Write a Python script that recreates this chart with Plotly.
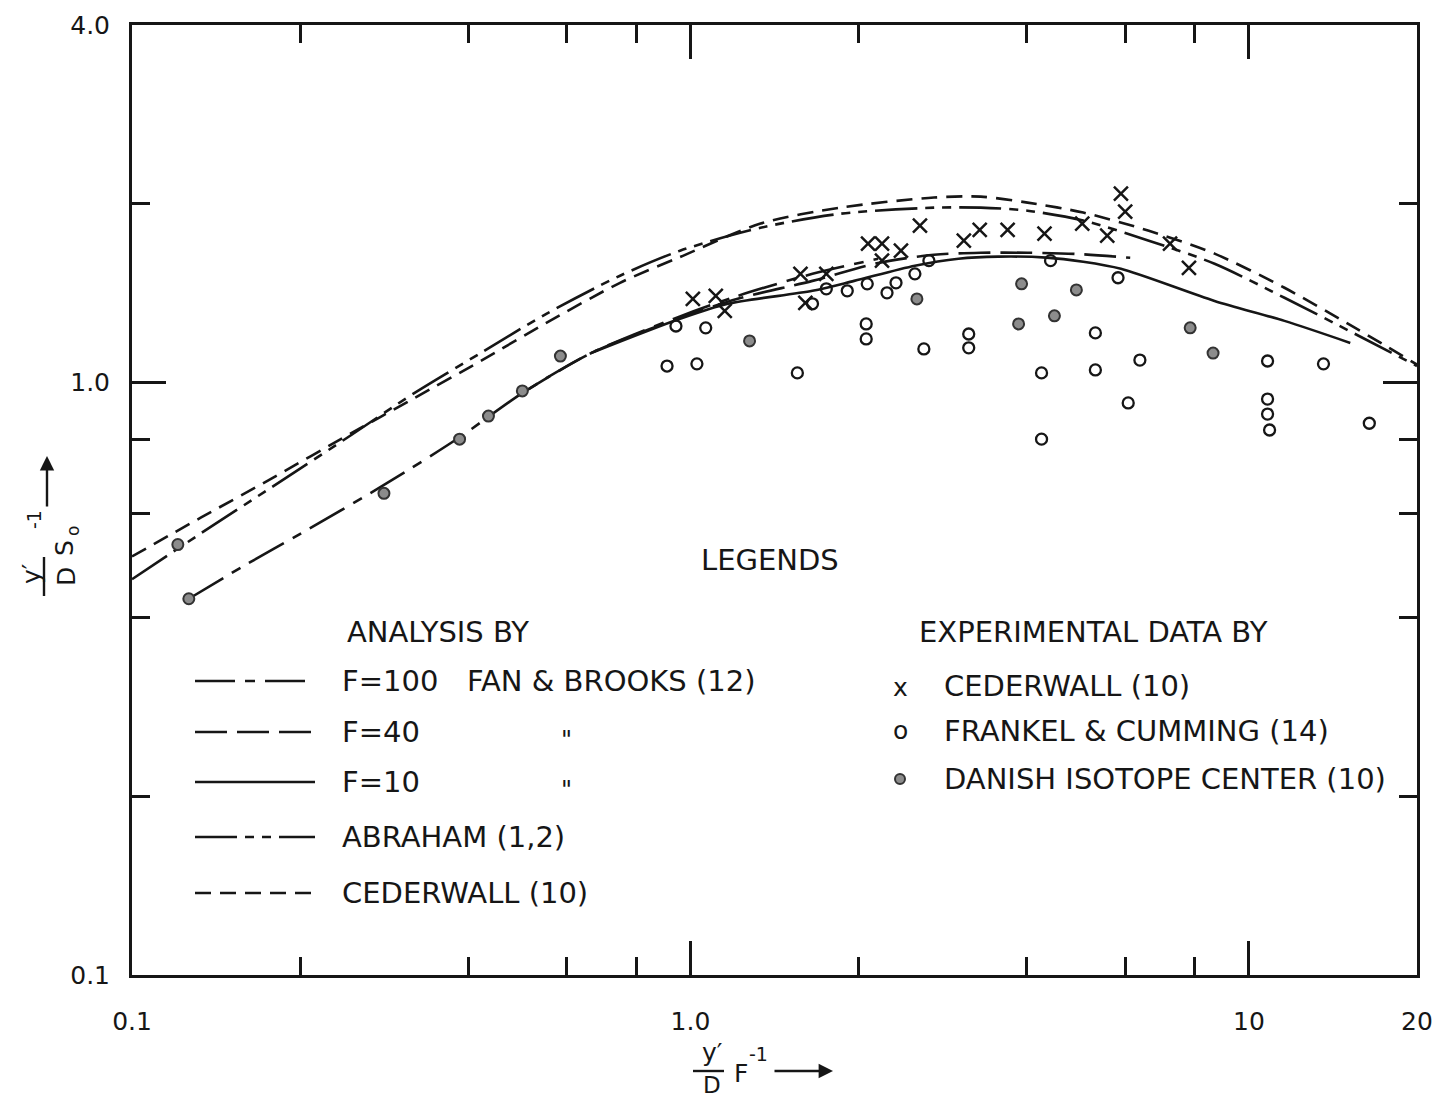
import plotly.graph_objects as go

# ---------------- data ----------------
# Analysis curves
ced_line_x = [0.1, 0.133, 0.178, 0.247, 0.318, 0.421, 0.552, 0.748, 0.958, 1.335, 1.854, 2.729, 3.31, 4.015, 5.05, 6.62, 8.68, 11.58, 15.5, 20.0]
ced_line_y = [0.508, 0.591, 0.688, 0.820, 0.936, 1.085, 1.258, 1.470, 1.625, 1.850, 1.968, 2.047, 2.054, 2.007, 1.931, 1.799, 1.646, 1.442, 1.234, 1.07]

abr_line_x = [0.1, 0.133, 0.178, 0.247, 0.318, 0.421, 0.552, 0.748, 0.958, 1.335, 1.854, 2.729, 3.31, 4.015, 5.05, 6.62, 8.68, 11.58, 15.5, 20.0]
abr_line_y = [0.465, 0.556, 0.665, 0.814, 0.954, 1.119, 1.303, 1.511, 1.665, 1.820, 1.922, 1.968, 1.968, 1.945, 1.872, 1.731, 1.583, 1.387, 1.205, 1.064]

f100_x = [0.1264, 0.157, 0.201, 0.286, 0.386, 0.500, 0.664, 0.958, 1.215, 1.654, 2.168]
f100_y = [0.431, 0.487, 0.556, 0.675, 0.807, 0.958, 1.119, 1.290, 1.397, 1.522, 1.614]

f40_x = [0.500, 0.664, 0.958, 1.215, 1.654, 2.168, 2.729, 3.31, 4.015, 4.87, 6.13]
f40_y = [0.958, 1.119, 1.283, 1.382, 1.481, 1.588, 1.639, 1.652, 1.652, 1.645, 1.620]

f10_x = [0.664, 0.958, 1.167, 1.654, 1.964, 2.523, 3.02, 3.56, 4.34, 5.05, 5.90, 8.68, 11.58, 15.19]
f10_y = [1.119, 1.278, 1.355, 1.425, 1.481, 1.571, 1.614, 1.627, 1.621, 1.595, 1.552, 1.370, 1.268, 1.164]

# Experimental data
ced_pts_x = [1.010, 1.110, 1.152, 1.574, 1.751, 1.606, 2.080, 2.203, 2.382, 2.203, 2.576, 3.087, 3.296, 3.698, 4.305, 5.03, 5.576, 5.90, 6.004, 7.224, 7.81]
ced_pts_y = [1.381, 1.397, 1.318, 1.522, 1.522, 1.360, 1.711, 1.711, 1.665, 1.602, 1.835, 1.731, 1.806, 1.806, 1.779, 1.849, 1.765, 2.078, 1.938, 1.711, 1.558]

fc_x = [0.942, 1.065, 0.908, 1.027, 1.554, 1.654, 1.751, 1.909, 2.073, 2.064, 2.064, 2.249, 2.334, 2.523, 2.673, 2.618, 3.150, 3.150, 4.414, 4.253, 4.253, 5.31, 5.31, 5.83, 6.08, 6.38, 10.80, 10.80, 10.80, 10.89, 13.60, 16.43]
fc_y = [1.243, 1.234, 1.064, 1.073, 1.036, 1.355, 1.436, 1.425, 1.464, 1.253, 1.182, 1.414, 1.470, 1.522, 1.602, 1.137, 1.205, 1.142, 1.602, 1.036, 0.801, 1.210, 1.048, 1.499, 0.922, 1.089, 1.085, 0.936, 0.883, 0.830, 1.073, 0.852]

dan_x = [0.1208, 0.1264, 0.2826, 0.386, 0.4348, 0.500, 0.585, 1.276, 2.544, 3.917, 3.869, 4.485, 4.91, 7.85, 8.627]
dan_y = [0.532, 0.431, 0.649, 0.801, 0.876, 0.966, 1.106, 1.173, 1.381, 1.464, 1.253, 1.293, 1.430, 1.234, 1.119]

# Axis ticks
x_major = [0.1, 1, 10, 20]
x_major_text = ["0.1", "1.0", "10", "20"]
x_minor = [0.2, 0.4, 0.6, 0.8, 2, 4, 6, 8]
y_major = [0.1, 1, 4]
y_major_text = ["0.1", "1.0", "4.0"]
y_minor = [0.2, 0.4, 0.6, 0.8, 2]

# Legend texts
analysis_rows = ["F=100", "F=40", "F=10", "ABRAHAM (1,2)", "CEDERWALL (10)"]
experiment_rows = ["CEDERWALL (10)", "FRANKEL &amp; CUMMING (14)", "DANISH ISOTOPE CENTER (10)"]

# ---------------- styling ----------------
FONT = "DejaVu Sans"
INK = "#161616"
W, H = 1437, 1102
L, R, T, B = 132, 20, 25, 127
PW, PH = W - L - R, H - T - B
TXT = 29

DASH_CED = "16px,9px"
DASH_ABR = "42px,8px,9px,8px,9px,8px"
DASH_F100 = "40px,10px,10px,10px"
DASH_F40 = "32px,10px"


def px(xp):
    return (xp - L) / PW


def py(yp):
    return (T + PH - yp) / PH


fig = go.Figure()


def add_line(xs, ys, dash):
    fig.add_trace(go.Scatter(x=xs, y=ys, mode="lines",
                             line=dict(color=INK, width=2.6, dash=dash, shape="spline", smoothing=0.8),
                             showlegend=False, hoverinfo="skip"))


add_line(ced_line_x, ced_line_y, DASH_CED)
add_line(abr_line_x, abr_line_y, DASH_ABR)
add_line(f100_x, f100_y, DASH_F100)
add_line(f40_x, f40_y, DASH_F40)
add_line(f10_x, f10_y, "solid")

fig.add_trace(go.Scatter(x=fc_x, y=fc_y, mode="markers", showlegend=False,
                         marker=dict(symbol="circle-open", size=11, color=INK, line=dict(width=2.3, color=INK))))
fig.add_trace(go.Scatter(x=dan_x, y=dan_y, mode="markers", showlegend=False,
                         marker=dict(symbol="circle", size=11, color="#8c8c8c", line=dict(width=2, color="#333333"))))
fig.add_trace(go.Scatter(x=ced_pts_x, y=ced_pts_y, mode="markers", showlegend=False,
                         marker=dict(symbol="x-thin", size=14, color=INK, line=dict(width=2.5, color=INK))))

annotations = []
shapes = []


def ann(text, x, y, size=TXT, xanchor="left", angle=0):
    annotations.append(dict(text=text, x=px(x), y=py(y), xref="paper", yref="paper", showarrow=False,
                            xanchor=xanchor, yanchor="middle", textangle=angle,
                            font=dict(family=FONT, size=size, color=INK)))


def seg(x0, y0, x1, y1, dash="solid", width=2.6):
    shapes.append(dict(type="line", xref="paper", yref="paper", x0=px(x0), y0=py(y0), x1=px(x1), y1=py(y1),
                       line=dict(color=INK, width=width, dash=dash)))


# Legend block
ann("LEGENDS", 770, 560, xanchor="center")
ann("ANALYSIS BY", 345, 632)
rows_y = [681, 732, 782, 837, 893]
dashes = [DASH_F100, DASH_F40, "solid", DASH_ABR, DASH_CED]
for txt, yy, d in zip(analysis_rows, rows_y, dashes):
    seg(195, yy, 315, yy, dash=d)
    ann(txt, 340, yy)
ann("FAN &amp; BROOKS (12)", 465, rows_y[0])
ann('"', 566, rows_y[1] + 8, size=24, xanchor="center")
ann('"', 566, rows_y[2] + 8, size=24, xanchor="center")

ann("EXPERIMENTAL DATA BY", 917, 632)
exp_y = [686, 731, 779]
for txt, yy in zip(experiment_rows, exp_y):
    ann(txt, 942, yy)
ann("x", 900, exp_y[0] + 1, size=25, xanchor="center")
ann("o", 900, exp_y[1] - 1, size=25, xanchor="center")
shapes.append(dict(type="circle", xref="paper", yref="paper",
                   x0=px(895), x1=px(905), y0=py(exp_y[2] - 5), y1=py(exp_y[2] + 5),
                   fillcolor="#8c8c8c", line=dict(color="#333333", width=2)))

# X axis title: y'/D F^-1 ->
ann("y′", 712, 1052, size=25, xanchor="center")
seg(693, 1071, 724, 1071, width=2.4)
ann("D", 712, 1085, size=23, xanchor="center")
ann("F", 741, 1073, size=25, xanchor="center")
ann("-1", 758, 1054, size=19, xanchor="center")
annotations.append(dict(x=px(833), y=py(1071), ax=-60, ay=0, xref="paper", yref="paper", axref="pixel", ayref="pixel",
                        text="", showarrow=True, arrowhead=2, arrowsize=1.2, arrowwidth=2.4, arrowcolor=INK))

# Y axis title (rotated)
ann("y′", 31, 574, size=25, xanchor="center", angle=-90)
seg(44, 557, 44, 596, width=2.4)
ann("D", 66, 577, size=25, xanchor="center", angle=-90)
ann("S", 64, 548, size=25, xanchor="center", angle=-90)
ann("o", 73, 531, size=17, xanchor="center", angle=-90)
ann("-1", 34, 519, size=19, xanchor="center", angle=-90)
annotations.append(dict(x=px(47), y=py(456), ax=0, ay=52, xref="paper", yref="paper", axref="pixel", ayref="pixel",
                        text="", showarrow=True, arrowhead=2, arrowsize=1.2, arrowwidth=2.4, arrowcolor=INK))

axis_common = dict(type="log", showgrid=False, zeroline=False, showline=True, linecolor=INK, linewidth=3,
                   mirror="ticks", ticks="inside", tickwidth=3, tickcolor=INK, automargin=False,
                   tickfont=dict(family=FONT, size=25, color=INK))

fig.update_layout(
    width=W, height=H,
    margin=dict(l=L, r=R, t=T, b=B, autoexpand=False),
    paper_bgcolor="white", plot_bgcolor="white",
    xaxis=dict(axis_common, range=[-1, 1.30103], tickmode="array", tickvals=x_major, ticktext=x_major_text,
               ticklen=34, ticklabelstandoff=22,
               minor=dict(tickmode="array", tickvals=x_minor, ticks="inside", ticklen=18, tickwidth=3, tickcolor=INK)),
    yaxis=dict(axis_common, range=[-1, 0.60206], tickmode="array", tickvals=y_major, ticktext=y_major_text,
               ticklen=34, ticklabelstandoff=14,
               minor=dict(tickmode="array", tickvals=y_minor, ticks="inside", ticklen=18, tickwidth=3, tickcolor=INK)),
    annotations=annotations,
    shapes=shapes,
)

fig.write_html("out.html")
